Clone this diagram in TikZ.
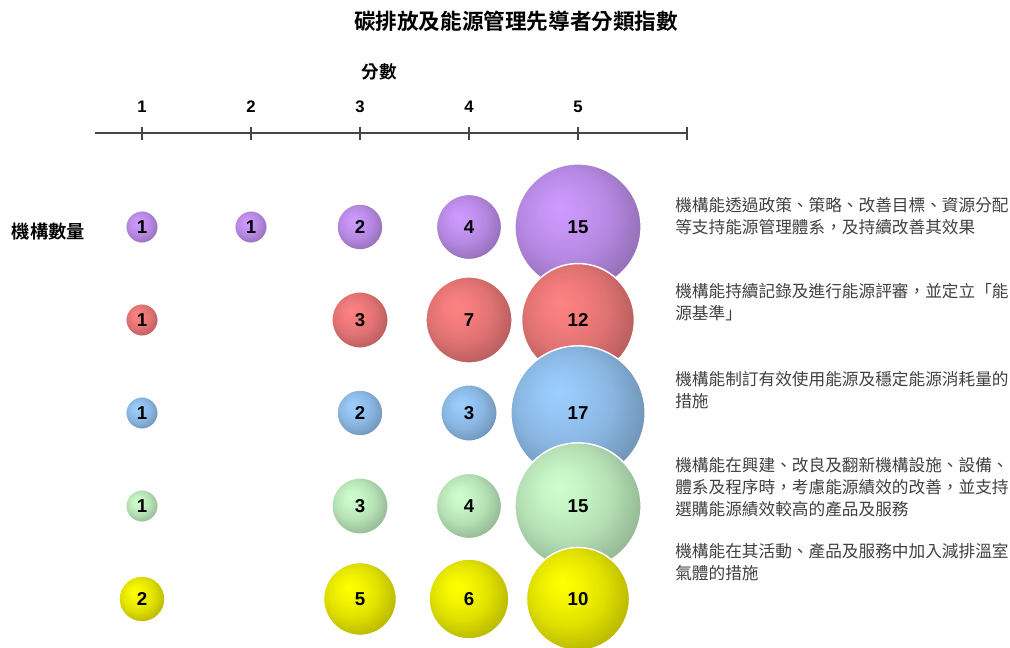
\documentclass[tikz,border=0pt]{standalone}
\usepackage{fontspec}
\setmainfont{Liberation Sans}
\newfontfamily\cjk{Noto Sans CJK TC}[BoldFont={Noto Sans CJK TC Bold}]
\usetikzlibrary{positioning}

\makeatletter
\pgfdeclareradialshading[tikz@ball]{bubble}{\pgfpoint{-8bp}{8bp}}{%
	color(0bp)=(tikz@ball);
	color(8bp)=(tikz@ball!96!black);
	color(18bp)=(tikz@ball!88!black);
	color(28bp)=(tikz@ball!74!black);
	color(50bp)=(tikz@ball!60!black)}
\makeatother

\begin{document}
\begin{tikzpicture}[x=0.75pt,y=-0.75pt,font=\cjk]
		
		\definecolor{bubPurple}{RGB}{206,154,255}
		\definecolor{bubRed}{RGB}{255,130,130}
		\definecolor{bubBlue}{RGB}{156,206,255}
		\definecolor{bubGreen}{RGB}{206,255,206}
		\definecolor{bubYellow}{RGB}{255,255,0}
		\definecolor{descGray}{RGB}{64,64,64}
		\definecolor{axisGray}{RGB}{70,70,70}
		
		\pgfmathsetmacro{\colDist}{109}
		\pgfmathsetmacro{\rowDist}{93}
		
		\tikzset{
			bubble/.style={
				circle,
				ball color=#1,
				shading=bubble,
				draw=white,
				line width=1.1pt,
				inner sep=0,
				outer sep=0pt,
				font=\normalfont\bfseries\fontsize{14}{14}\selectfont,
			},
			tickLabel/.style={
				anchor=base,
				inner sep=0,
				font=\normalfont\bfseries\fontsize{12.5}{13}\selectfont,
			},
			headLabel/.style={
				anchor=base,
				inner sep=0,
				font=\cjk\bfseries\fontsize{13.2}{14}\selectfont,
			},
			descText/.style={
				anchor=base west,
				align=left,
				inner sep=0,
				text=descGray,
				font=\cjk\fontsize{12.5}{16.5}\selectfont,
			},
		}
		
		\useasboundingbox (0,0) rectangle (1010,648);
		
		% Title
		\node[anchor=base,inner sep=0,font=\cjk\bfseries\fontsize{16.2}{18}\selectfont] (title) at (516,30) {碳排放及能源管理先導者分類指數};
		\node[headLabel] (scoreHead) at (379.5,78.5) {分數};
		\node[headLabel,font=\cjk\bfseries\fontsize{13.7}{14}\selectfont] (countHead) at (48.5,238.5) {機構數量};
		
		% Axis
		\coordinate (axisL) at (95,133);
		\coordinate (axisR) at (686,133);
		\draw[axisGray,line width=0.8pt] (axisL) -- (axisR);
		\foreach \i in {1,...,6} {
			\draw[axisGray,line width=0.8pt] (142+\i*\colDist-\colDist,127) -- ++(0,13);
		}
		\foreach \i in {1,...,5} {
			\node[tickLabel] (score\i) at (142+\i*\colDist-\colDist,113) {\i};
		}
		
		% Bubbles
		\foreach \r/\clr/\data in {
			1/bubPurple/{1/1,2/1,3/2,4/4,5/15},
			2/bubRed/{1/1,3/3,4/7,5/12},
			3/bubBlue/{1/1,3/2,4/3,5/17},
			4/bubGreen/{1/1,3/3,4/4,5/15},
			5/bubYellow/{1/2,3/5,4/6,5/10}} {
			\foreach \c/\v in \data {
				\pgfmathsetmacro{\dia}{24.45*sqrt(\v)}
				\node[bubble=\clr,minimum size=\dia pt] (b\r-\c) at (142+\c*\colDist-\colDist,227+\r*\rowDist-\rowDist) {\v};
			}
		}
		
		% Descriptions (anchored at the last line)
		\node[descText] (desc1) at (675,234) {機構能透過政策、策略、改善目標、資源分配\\等支持能源管理體系，及持續改善其效果};
		\node[descText] (desc2) at (675,320) {機構能持續記錄及進行能源評審，並定立「能\\源基準」};
		\node[descText] (desc3) at (675,407) {機構能制訂有效使用能源及穩定能源消耗量的\\措施};
		\node[descText] (desc4) at (675,515) {機構能在興建、改良及翻新機構設施、設備、\\體系及程序時，考慮能源績效的改善，並支持\\選購能源績效較高的產品及服務};
		\node[descText] (desc5) at (675,579) {機構能在其活動、產品及服務中加入減排溫室\\氣體的措施};
		
\end{tikzpicture}
\end{document}
